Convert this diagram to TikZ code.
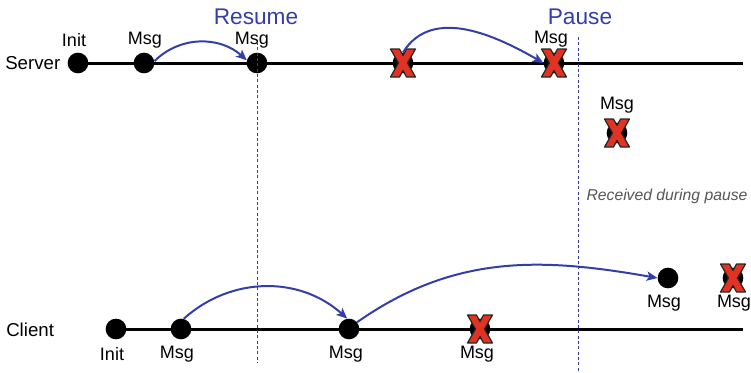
\documentclass[tikz,border=0pt]{standalone}
\usepackage{fontspec}
\setmainfont{Liberation Sans}
\usetikzlibrary{arrows.meta,backgrounds}
\definecolor{flowblue}{RGB}{52,62,168}
\definecolor{xred}{RGB}{226,50,34}
\definecolor{notegray}{RGB}{85,85,85}
\begin{document}
\begin{tikzpicture}[x=0.75pt,y=0.75pt,
  event/.style={circle,fill=black,inner sep=0pt,minimum size=15.5pt},
  tag/.style={font=\fontsize{13.5}{15}\selectfont,inner sep=0pt},
  side/.style={font=\fontsize{14}{16}\selectfont,inner sep=0pt,anchor=west},
  phase/.style={font=\fontsize{17}{19}\selectfont,text=flowblue,inner sep=0pt},
  note/.style={font=\fontsize{11.8}{14}\selectfont\itshape,text=notegray,inner sep=0pt},
  timeline/.style={line width=2.25pt},
  marker/.style={flowblue,line width=0.75pt,dash pattern=on 2.2pt off 1.8pt},
  flow/.style={flowblue,line width=1.5pt,-{Stealth[length=8pt,width=7pt,inset=2pt]}},
  cross/.pic={\draw[fill=xred,draw=black!85,line width=0.9pt,line join=round]
    (-12.5,14)--(-3.5,14)--(0,7.5)--(3.5,14)--(12.5,14)--(4.5,0)--(12.5,-14)--(3.5,-14)
    --(0,-7.5)--(-3.5,-14)--(-12.5,-14)--(-4.5,0)--cycle;}
]
\useasboundingbox (0,0) rectangle (751,-372);

% server events
\node[event] (s1) at (78,-63) {};
\node[event] (s2) at (144,-63) {};
\node[event] (s3) at (257,-63) {};
\node[event] (sx1) at (403,-63) {};
\node[event] (sx2) at (554,-63) {};
\node[event] (sp) at (617,-133) {};
\coordinate (send) at (743,-63);

% client events
\node[event] (c1) at (116,-329) {};
\node[event] (c2) at (181,-329) {};
\node[event] (c3) at (349,-329) {};
\node[event] (cx1) at (480,-329) {};
\node[event] (c5) at (668,-278) {};
\node[event] (cx2) at (733,-278) {};
\coordinate (cend) at (743,-329);

% timelines
\begin{scope}[on background layer]
  \draw[timeline] (s1.center) -- (send);
  \draw[timeline] (c1.center) -- (cend);
\end{scope}

% side labels
\node[side] (lserver) at (5,-63) {Server};
\node[side] (lclient) at (6,-330) {Client};

% event labels
\node[tag] (ls1) at (74,-40) {Init};
\node[tag] (ls2) at (145,-40) {Msg};
\node[tag] (ls3) at (252,-40) {Msg};
\node[tag] (lsx2) at (551,-39) {Msg};
\node[tag] (lsp) at (617,-105) {Msg};
\node[tag] (lc1) at (112,-354) {Init};
\node[tag] (lc2) at (177,-354) {Msg};
\node[tag] (lc3) at (346,-354) {Msg};
\node[tag] (lcx1) at (477,-354) {Msg};
\node[tag] (lc5) at (664,-303) {Msg};
\node[tag] (lcx2) at (734,-303) {Msg};

% phase markers
\node[phase] (resume) at (256,-17) {Resume};
\node[phase] (pause) at (580,-17) {Pause};
\coordinate (rtop) at (257,-42);
\coordinate (rbot) at (257,-363);
\coordinate (ptop) at (578,-37);
\coordinate (pbot) at (578,-372);
\draw[marker] (rtop) -- (rbot);
\draw[marker] (ptop) -- (pbot);

\node[note] (during) at (667,-196) {Received during pause};

% dropped messages
\foreach \n in {sx1,sx2,sp,cx1,cx2} \pic at (\n) {cross};

% message flow
\draw[flow] (s2.10) to[out=45,in=138] (s3.165);
\draw[flow] (sx1.north) to[out=58,in=150] (sx2.west);
\draw[flow] (c2.75) to[out=42,in=138] (c3.100);
\draw[flow] (c3.40) to[out=35,in=170] (c5.west);
\end{tikzpicture}
\end{document}
